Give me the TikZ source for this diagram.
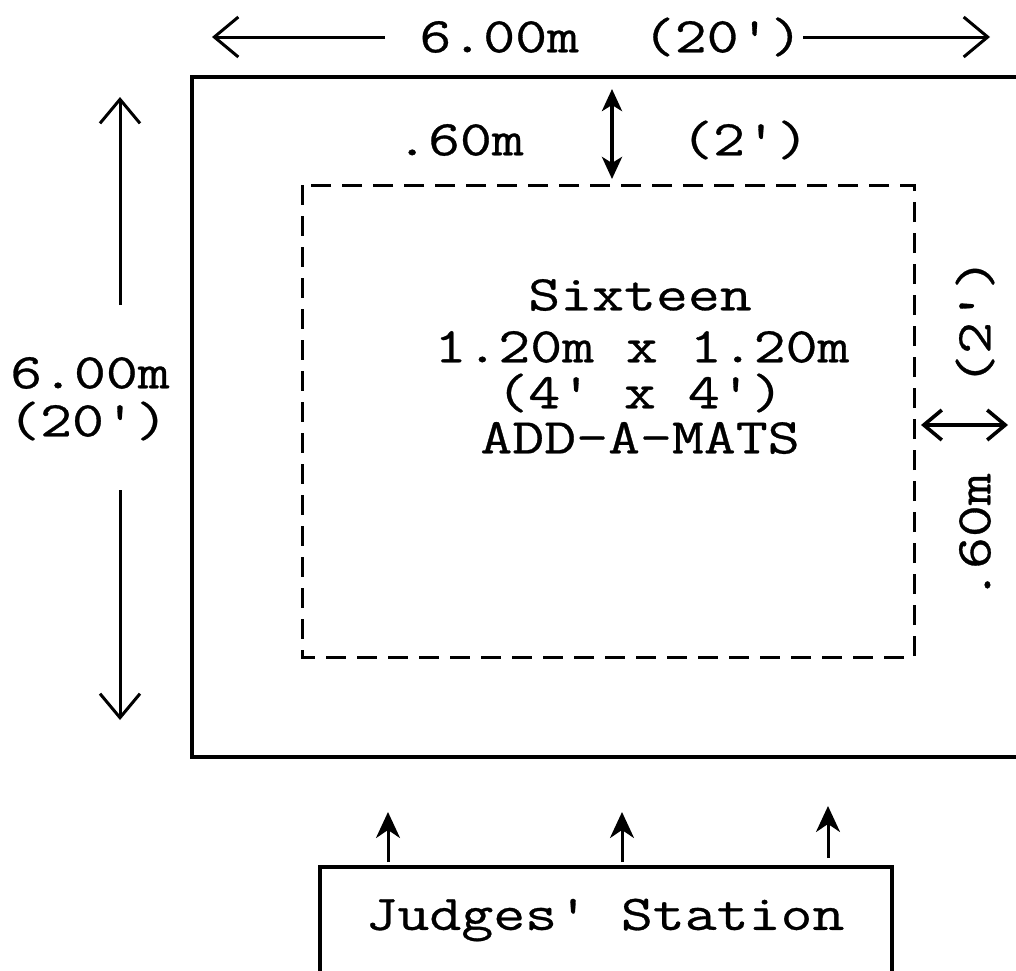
\documentclass[tikz,border=0pt]{standalone}
\usepackage{fontspec}
\newfontfamily\tw[FakeStretch=1.24,FakeBold=0.6]{Latin Modern Mono}
\usetikzlibrary{arrows.meta}
\begin{document}
\begin{tikzpicture}[x=1pt,y=-1pt,
  lbl/.style={font=\tw\fontsize{50}{58}\selectfont, inner sep=0pt},
  solidline/.style={line width=3.2pt},
  dashline/.style={line width=3pt, dash pattern=on 20pt off 11pt},
  openarrow/.style={line width=3pt, -{Straight Barb[length=24pt,width=40pt,line width=3pt]}},
  smallopen/.style={line width=3.6pt, {Straight Barb[length=18pt,width=30pt,line width=3.6pt]}-{Straight Barb[length=18pt,width=30pt,line width=3.6pt]}},
  filleddbl/.style={line width=4pt, {Stealth[length=22pt,width=20pt,inset=6pt]}-{Stealth[length=22pt,width=20pt,inset=6pt]}},
  judgearrow/.style={line width=3pt, -{Stealth[length=26pt,width=24pt,inset=8pt]}}
]
\useasboundingbox (0,0) rectangle (1016,970);
\begin{scope}
  \clip (0,0) rectangle (1016,970);
  \draw[solidline] (192,77) rectangle (1040,757);
  \draw[dashline] (302,185) rectangle (914,657);
  \draw[solidline] (320,867) rectangle (892,1000);
\end{scope}

% top dimension
\node[lbl] (toplbl) at (611,37) {6.00m\ \ (20')};
\coordinate (tla) at (385,37); \coordinate (tl) at (212,37);
\coordinate (tra) at (803,37); \coordinate (tr) at (990,37);
\draw[openarrow] (tla) -- (tl);
\draw[openarrow] (tra) -- (tr);

% top margin
\node[lbl] (mtop) at (460,140) {.60m};
\node[lbl] (ftop) at (745,140) {(2')};
\coordinate (va) at (612,89); \coordinate (vb) at (612,179);
\draw[filleddbl] (va) -- (vb);

% left dimension
\node[lbl] (lm) at (90,373) {6.00m};
\node[lbl] (lf) at (88,421) {(20')};
\coordinate (lua) at (120,305); \coordinate (lu) at (120,97);
\coordinate (lda) at (120,490); \coordinate (ld) at (120,720);
\draw[openarrow] (lua) -- (lu);
\draw[openarrow] (lda) -- (ld);

% centre text
\node[lbl] (c1) at (640,295) {Sixteen};
\node[lbl] (c2) at (642,347) {1.20m x 1.20m};
\node[lbl] (c3) at (640,393) {(4' x 4')};
\node[lbl] (c4) at (640,438) {ADD-A-MATS};

% right margin
\node[lbl, rotate=90] (rf) at (975,322) {(2')};
\node[lbl, rotate=90] (rm) at (975,537) {.60m};
\coordinate (ra) at (921,425); \coordinate (rb) at (1008,425);
\draw[smallopen] (ra) -- (rb);

% judges
\node[lbl] (judges) at (605,920) {Judges' Station};
\coordinate (j1) at (388,862); \coordinate (j1t) at (388,812);
\coordinate (j2) at (622,862); \coordinate (j2t) at (622,812);
\coordinate (j3) at (828,858); \coordinate (j3t) at (828,806);
\draw[judgearrow] (j1) -- (j1t);
\draw[judgearrow] (j2) -- (j2t);
\draw[judgearrow] (j3) -- (j3t);
\end{tikzpicture}
\end{document}
